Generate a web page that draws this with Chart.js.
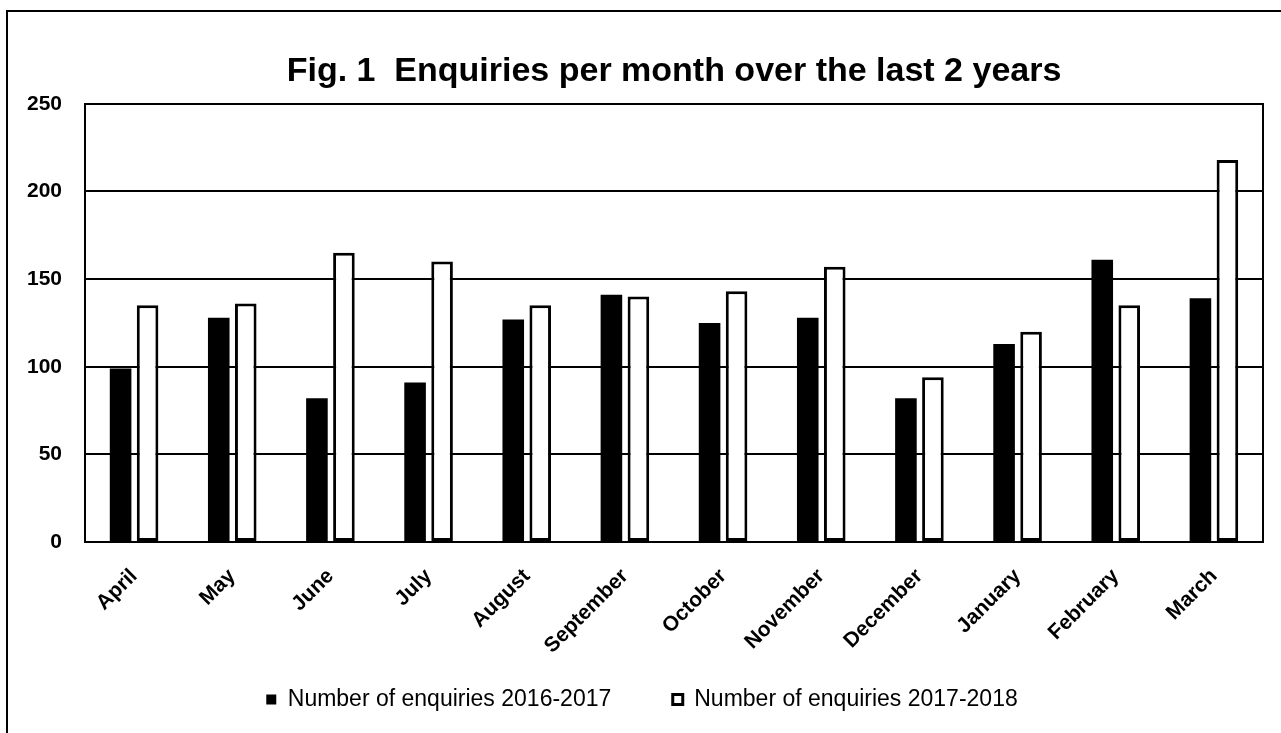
<!DOCTYPE html>
<html>
<head>
<meta charset="utf-8">
<script src="https://cdn.jsdelivr.net/npm/chart.js@4.4.1/dist/chart.umd.min.js"></script>
<style>
  html, body { margin: 0; padding: 0; background: #fff; }
  #frame { position: absolute; left: 6px; top: 10px; right: 0; bottom: 0; border-left: 2px solid #000; border-top: 2px solid #000; }
  #chart { position: absolute; left: 0; top: 0; }
</style>
</head>
<body>
<div id="frame"></div>
<canvas id="chart" width="1281" height="733"></canvas>
<script>
// Months of the reporting year
const months = ['April', 'May', 'June', 'July', 'August', 'September',
                'October', 'November', 'December', 'January', 'February', 'March'];

// Enquiries per month
const enquiries1617 = [99, 128, 82, 91, 127, 141, 125, 128, 82, 113, 161, 139];
const enquiries1718 = [135, 136, 165, 160, 135, 140, 143, 157, 94, 120, 135, 218];

const yTicks = [0, 50, 100, 150, 200, 250];

const font = "'Liberation Sans', Arial, sans-serif";

const ctx = document.getElementById('chart').getContext('2d');

const chart = new Chart(ctx, {
    type: 'bar',
    data: {
        labels: months,
        datasets: [
            {
                label: 'Number of enquiries 2016-2017',
                data: enquiries1617,
                backgroundColor: '#000',
                borderColor: '#000',
                borderWidth: 0
            },
            {
                label: 'Number of enquiries 2017-2018',
                data: enquiries1718,
                backgroundColor: '#fff',
                borderColor: '#000',
                borderWidth: 3,
                borderSkipped: false
            }
        ]
    },
    options: {
        responsive: false,
        animation: false,
        devicePixelRatio: 1,
        datasets: {
            bar: { categoryPercentage: 0.55, barPercentage: 0.8 }
        },
        layout: {
            padding: { left: 20, right: 17, top: 0, bottom: 12 }
        },
        plugins: {
            title: {
                display: true,
                text: 'Fig. 1  Enquiries per month over the last 2 years',
                color: '#000',
                fullSize: false,
                font: { family: font, size: 34, weight: 'bold' },
                padding: { top: 51, bottom: 12 }
            },
            legend: {
                position: 'bottom',
                labels: {
                    color: '#000',
                    boxWidth: 10,
                    boxHeight: 10,
                    padding: 20,
                    font: { family: font, size: 23 },
                    // put an empty gap item between the two series
                    generateLabels: function (chart) {
                        const items = Chart.defaults.plugins.legend.labels.generateLabels(chart);
                        items.splice(1, 0, {
                            text: '',
                            fillStyle: 'rgba(0,0,0,0)',
                            strokeStyle: 'rgba(0,0,0,0)',
                            lineWidth: 0,
                            hidden: false,
                            datasetIndex: -1
                        });
                        return items;
                    }
                }
            },
            tooltip: { enabled: false }
        },
        scales: {
            x: {
                grid: { display: false },
                border: { display: true, color: '#000', width: 2 },
                ticks: {
                    color: '#000',
                    maxRotation: 45,
                    minRotation: 45,
                    padding: 14,
                    font: { family: font, size: 21, weight: 'bold' }
                },
                afterFit: function (scale) { scale.height = 126; }
            },
            y: {
                min: 0,
                max: 250,
                afterBuildTicks: function (scale) {
                    scale.ticks = yTicks.map(v => ({ value: v }));
                },
                grid: { color: '#000', lineWidth: 2, drawTicks: false },
                border: { display: true, color: '#000', width: 2 },
                ticks: {
                    color: '#000',
                    padding: 23,
                    font: { family: font, size: 21, weight: 'bold' }
                },
                afterFit: function (scale) { scale.width = 65; }
            },
            y2: {
                position: 'right',
                display: true,
                grid: { display: false, drawTicks: false },
                border: { display: true, color: '#000', width: 2 },
                ticks: { display: false },
                afterFit: function (scale) { scale.width = 1; }
            }
        }
    }
});
</script>
</body>
</html>
